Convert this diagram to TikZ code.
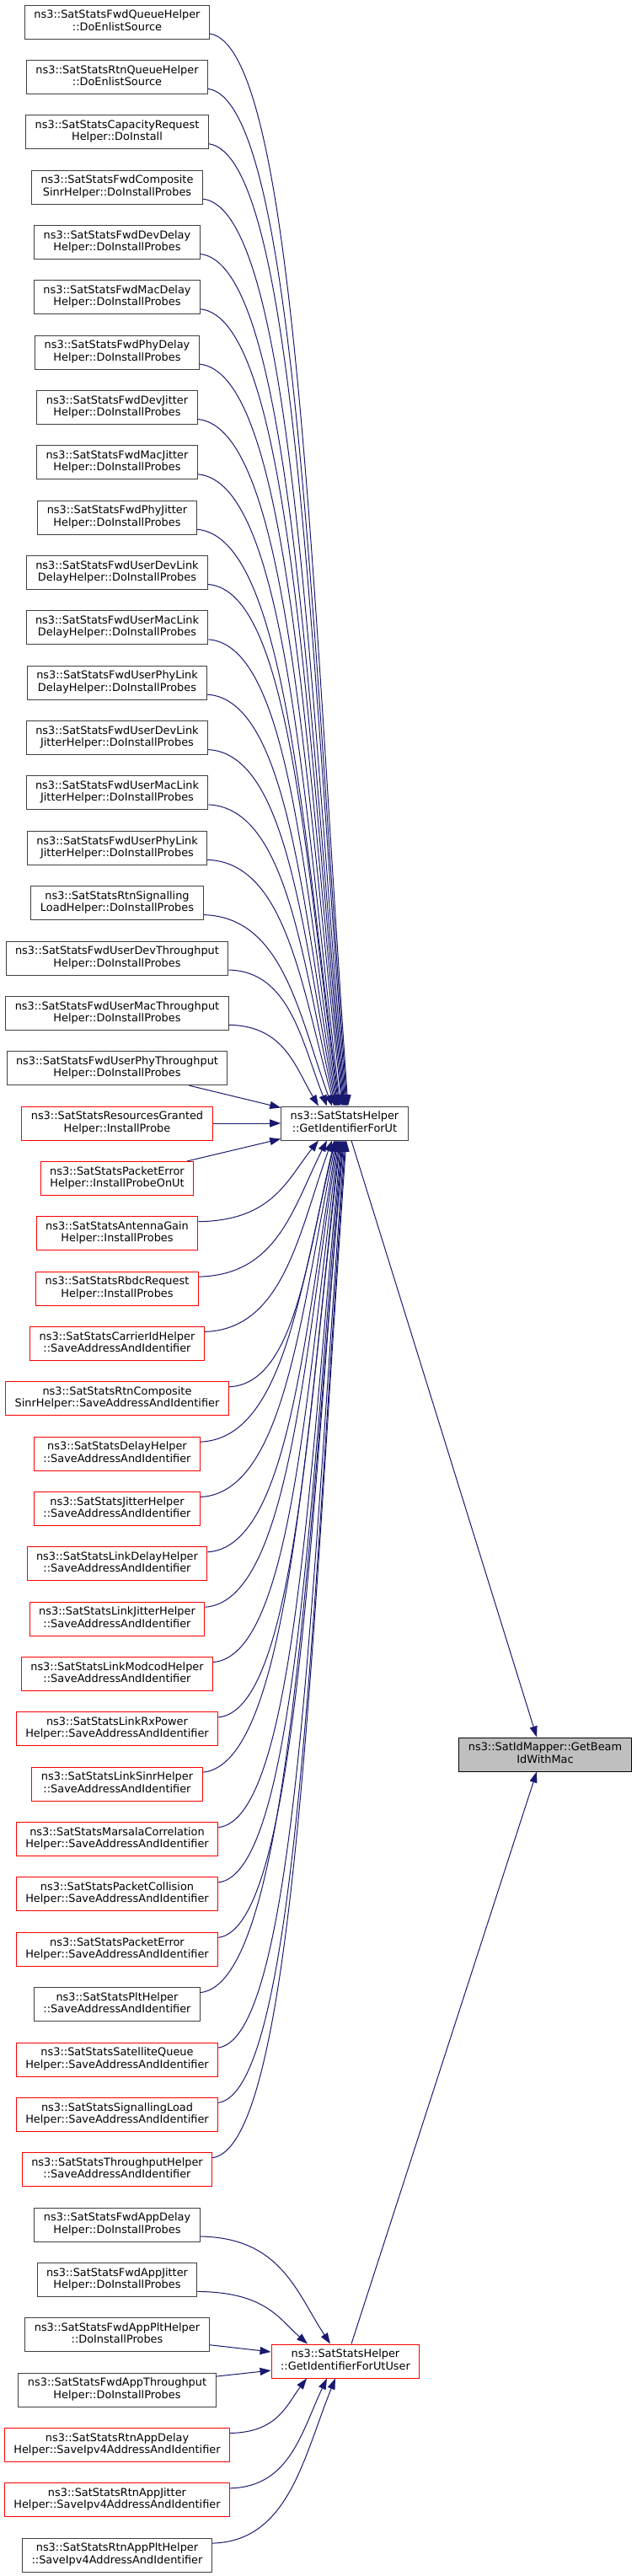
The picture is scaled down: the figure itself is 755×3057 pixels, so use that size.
\documentclass[tikz,border=0pt]{standalone}
\usepackage{fontspec}
\setmainfont{DejaVu Sans}
\usetikzlibrary{arrows.meta,calc}
\definecolor{edgeblue}{HTML}{191970}
\definecolor{boxgrey}{HTML}{404040}
\definecolor{boxred}{HTML}{FF0000}
\definecolor{rootfill}{HTML}{BFBFBF}
% first line flush left, second line centred (as the call graph prints them)
\newcommand{\fnname}[2]{\begin{tabular}{@{}c@{}}#1\hfill\\#2\end{tabular}}

\begin{document}
\begin{tikzpicture}[x=1pt,y=-1pt,font=\fontsize{12.9}{14.3}\selectfont,
  fn/.style={draw=boxgrey,line width=1pt,fill=white,inner xsep=11pt,inner ysep=5.7pt},
  fnred/.style={fn,draw=boxred},
  fnroot/.style={fn,draw=black,fill=rootfill},
  call/.style={-{Triangle[length=13pt,width=9pt]},draw=edgeblue,line width=1pt},
  callcurve/.style={to path={let \p1=(\tikztostart), \p2=(\tikztotarget) in
    .. controls ({\x1+0.62*(\x2-\x1)},{\y1+0.012*(\y2-\y1)})
    and ({\x2-0.26*(\x2-\x1)},{\y1+0.52*(\y2-\y1)}) .. (\tikztotarget)}}]
\useasboundingbox (0,0) rectangle (755,3057);

% callers of GetIdentifierForUt
\node[fn] (fwdq) at (139,26) {\fnname{ns3::SatStatsFwdQueueHelper}{::DoEnlistSource}};
\node[fn] (rtnq) at (139,91.4) {\fnname{ns3::SatStatsRtnQueueHelper}{::DoEnlistSource}};
\node[fn] (capreq) at (139,156.7) {\fnname{ns3::SatStatsCapacityRequest}{Helper::DoInstall}};
\node[fn] (fwdcsinr) at (139,222.1) {\fnname{ns3::SatStatsFwdComposite}{SinrHelper::DoInstallProbes}};
\node[fn] (fwddevd) at (139,287.4) {\fnname{ns3::SatStatsFwdDevDelay}{Helper::DoInstallProbes}};
\node[fn] (fwdmacd) at (139,352.8) {\fnname{ns3::SatStatsFwdMacDelay}{Helper::DoInstallProbes}};
\node[fn] (fwdphyd) at (139,418.1) {\fnname{ns3::SatStatsFwdPhyDelay}{Helper::DoInstallProbes}};
\node[fn] (fwddevj) at (139,483.5) {\fnname{ns3::SatStatsFwdDevJitter}{Helper::DoInstallProbes}};
\node[fn] (fwdmacj) at (139,548.8) {\fnname{ns3::SatStatsFwdMacJitter}{Helper::DoInstallProbes}};
\node[fn] (fwdphyj) at (139,614.2) {\fnname{ns3::SatStatsFwdPhyJitter}{Helper::DoInstallProbes}};
\node[fn] (udevld) at (139,679.5) {\fnname{ns3::SatStatsFwdUserDevLink}{DelayHelper::DoInstallProbes}};
\node[fn] (umacld) at (139,744.9) {\fnname{ns3::SatStatsFwdUserMacLink}{DelayHelper::DoInstallProbes}};
\node[fn] (uphyld) at (139,810.2) {\fnname{ns3::SatStatsFwdUserPhyLink}{DelayHelper::DoInstallProbes}};
\node[fn] (udevlj) at (139,875.6) {\fnname{ns3::SatStatsFwdUserDevLink}{JitterHelper::DoInstallProbes}};
\node[fn] (umaclj) at (139,940.9) {\fnname{ns3::SatStatsFwdUserMacLink}{JitterHelper::DoInstallProbes}};
\node[fn] (uphylj) at (139,1006.3) {\fnname{ns3::SatStatsFwdUserPhyLink}{JitterHelper::DoInstallProbes}};
\node[fn] (rtnsig) at (139,1071.6) {\fnname{ns3::SatStatsRtnSignalling}{LoadHelper::DoInstallProbes}};
\node[fn] (udevtp) at (139,1137) {\fnname{ns3::SatStatsFwdUserDevThroughput}{Helper::DoInstallProbes}};
\node[fn] (umactp) at (139,1202.3) {\fnname{ns3::SatStatsFwdUserMacThroughput}{Helper::DoInstallProbes}};
\node[fn] (uphytp) at (139,1267.7) {\fnname{ns3::SatStatsFwdUserPhyThroughput}{Helper::DoInstallProbes}};
\node[fnred] (resgr) at (139,1333) {\fnname{ns3::SatStatsResourcesGranted}{Helper::InstallProbe}};
\node[fnred] (perrut) at (139,1398.4) {\fnname{ns3::SatStatsPacketError}{Helper::InstallProbeOnUt}};
\node[fnred] (antg) at (139,1463.7) {\fnname{ns3::SatStatsAntennaGain}{Helper::InstallProbes}};
\node[fnred] (rbdc) at (139,1529.1) {\fnname{ns3::SatStatsRbdcRequest}{Helper::InstallProbes}};
\node[fnred] (carrier) at (139,1594.4) {\fnname{ns3::SatStatsCarrierIdHelper}{::SaveAddressAndIdentifier}};
\node[fnred] (rtncsinr) at (139,1659.8) {\fnname{ns3::SatStatsRtnComposite}{SinrHelper::SaveAddressAndIdentifier}};
\node[fnred] (delay) at (139,1725.1) {\fnname{ns3::SatStatsDelayHelper}{::SaveAddressAndIdentifier}};
\node[fnred] (jitter) at (139,1790.5) {\fnname{ns3::SatStatsJitterHelper}{::SaveAddressAndIdentifier}};
\node[fnred] (linkd) at (139,1855.8) {\fnname{ns3::SatStatsLinkDelayHelper}{::SaveAddressAndIdentifier}};
\node[fnred] (linkj) at (139,1921.2) {\fnname{ns3::SatStatsLinkJitterHelper}{::SaveAddressAndIdentifier}};
\node[fnred] (modcod) at (139,1986.5) {\fnname{ns3::SatStatsLinkModcodHelper}{::SaveAddressAndIdentifier}};
\node[fnred] (rxpow) at (139,2051.9) {\fnname{ns3::SatStatsLinkRxPower}{Helper::SaveAddressAndIdentifier}};
\node[fnred] (sinr) at (139,2117.2) {\fnname{ns3::SatStatsLinkSinrHelper}{::SaveAddressAndIdentifier}};
\node[fnred] (marsala) at (139,2182.6) {\fnname{ns3::SatStatsMarsalaCorrelation}{Helper::SaveAddressAndIdentifier}};
\node[fnred] (pcoll) at (139,2247.9) {\fnname{ns3::SatStatsPacketCollision}{Helper::SaveAddressAndIdentifier}};
\node[fnred] (perr) at (139,2313.3) {\fnname{ns3::SatStatsPacketError}{Helper::SaveAddressAndIdentifier}};
\node[fn] (plt) at (139,2378.6) {\fnname{ns3::SatStatsPltHelper}{::SaveAddressAndIdentifier}};
\node[fnred] (satq) at (139,2444) {\fnname{ns3::SatStatsSatelliteQueue}{Helper::SaveAddressAndIdentifier}};
\node[fnred] (sigload) at (139,2509.3) {\fnname{ns3::SatStatsSignallingLoad}{Helper::SaveAddressAndIdentifier}};
\node[fnred] (tput) at (139,2574.7) {\fnname{ns3::SatStatsThroughputHelper}{::SaveAddressAndIdentifier}};
% callers of GetIdentifierForUtUser
\node[fn] (appd) at (139,2640) {\fnname{ns3::SatStatsFwdAppDelay}{Helper::DoInstallProbes}};
\node[fn] (appj) at (139,2705.4) {\fnname{ns3::SatStatsFwdAppJitter}{Helper::DoInstallProbes}};
\node[fn] (appplt) at (139,2770.7) {\fnname{ns3::SatStatsFwdAppPltHelper}{::DoInstallProbes}};
\node[fn] (apptp) at (139,2836.1) {\fnname{ns3::SatStatsFwdAppThroughput}{Helper::DoInstallProbes}};
\node[fnred] (rappd) at (139,2901.4) {\fnname{ns3::SatStatsRtnAppDelay}{Helper::SaveIpv4AddressAndIdentifier}};
\node[fnred] (rappj) at (139,2966.8) {\fnname{ns3::SatStatsRtnAppJitter}{Helper::SaveIpv4AddressAndIdentifier}};
\node[fn] (rappplt) at (139,3032.1) {\fnname{ns3::SatStatsRtnAppPltHelper}{::SaveIpv4AddressAndIdentifier}};

\node[fn] (ut) at (409,1333) {\fnname{ns3::SatStatsHelper}{::GetIdentifierForUt}};
\node[fnred] (utuser) at (410,2802) {\fnname{ns3::SatStatsHelper}{::GetIdentifierForUtUser}};
\node[fnroot] (beam) at (647,2082) {\fnname{ns3::SatIdMapper::GetBeam}{IdWithMac}};

% edges into GetIdentifierForUt, from above
\draw[call,callcurve] ([yshift=-14pt]fwdq.east) to ([xshift=4pt]ut.north);
\draw[call,callcurve] ([yshift=-14pt]rtnq.east) to ([xshift=3pt]ut.north);
\draw[call,callcurve] ([yshift=-14pt]capreq.east) to ([xshift=2pt]ut.north);
\draw[call,callcurve] ([yshift=-14pt]fwdcsinr.east) to ([xshift=1pt]ut.north);
\draw[call,callcurve] ([yshift=-14pt]fwddevd.east) to (ut.north);
\draw[call,callcurve] ([yshift=-14pt]fwdmacd.east) to ([xshift=-1pt]ut.north);
\draw[call,callcurve] ([yshift=-14pt]fwdphyd.east) to ([xshift=-2pt]ut.north);
\draw[call,callcurve] ([yshift=-14pt]fwddevj.east) to ([xshift=-3pt]ut.north);
\draw[call,callcurve] ([yshift=-14pt]fwdmacj.east) to ([xshift=-5pt]ut.north);
\draw[call,callcurve] ([yshift=-14pt]fwdphyj.east) to ([xshift=-6pt]ut.north);
\draw[call,callcurve] ([yshift=-14pt]udevld.east) to ([xshift=-7pt]ut.north);
\draw[call,callcurve] ([yshift=-14pt]umacld.east) to ([xshift=-8pt]ut.north);
\draw[call,callcurve] ([yshift=-14pt]uphyld.east) to ([xshift=-9pt]ut.north);
\draw[call,callcurve] ([yshift=-14pt]udevlj.east) to ([xshift=-10pt]ut.north);
\draw[call,callcurve] ([yshift=-14pt]umaclj.east) to ([xshift=-11pt]ut.north);
\draw[call,callcurve] ([yshift=-14pt]uphylj.east) to ([xshift=-12pt]ut.north);
\draw[call,callcurve] ([yshift=-14pt]rtnsig.east) to ([xshift=-15pt]ut.north);
\draw[call,callcurve] ([yshift=-14pt]udevtp.east) to ([xshift=-21pt]ut.north);
\draw[call,callcurve] ([yshift=-14pt]umactp.east) to ([xshift=-31pt]ut.north);
\draw[call] ([xshift=-46pt]uphytp.south east) -- ([yshift=-2pt]ut.north west);
\draw[call] (resgr.east) -- (ut.west);
\draw[call] ([xshift=-8pt]perrut.north east) -- ([yshift=2pt]ut.south west);
% edges into GetIdentifierForUt, from below
\draw[call,callcurve] ([yshift=14pt]antg.east) to ([xshift=-31pt]ut.south);
\draw[call,callcurve] ([yshift=14pt]rbdc.east) to ([xshift=-21pt]ut.south);
\draw[call,callcurve] ([yshift=14pt]carrier.east) to ([xshift=-15pt]ut.south);
\draw[call,callcurve] ([yshift=14pt]rtncsinr.east) to ([xshift=-12pt]ut.south);
\draw[call,callcurve] ([yshift=14pt]delay.east) to ([xshift=-11pt]ut.south);
\draw[call,callcurve] ([yshift=14pt]jitter.east) to ([xshift=-10pt]ut.south);
\draw[call,callcurve] ([yshift=14pt]linkd.east) to ([xshift=-9pt]ut.south);
\draw[call,callcurve] ([yshift=14pt]linkj.east) to ([xshift=-8pt]ut.south);
\draw[call,callcurve] ([yshift=14pt]modcod.east) to ([xshift=-7pt]ut.south);
\draw[call,callcurve] ([yshift=14pt]rxpow.east) to ([xshift=-6pt]ut.south);
\draw[call,callcurve] ([yshift=14pt]sinr.east) to ([xshift=-5pt]ut.south);
\draw[call,callcurve] ([yshift=14pt]marsala.east) to ([xshift=-4pt]ut.south);
\draw[call,callcurve] ([yshift=14pt]pcoll.east) to ([xshift=-3pt]ut.south);
\draw[call,callcurve] ([yshift=14pt]perr.east) to ([xshift=-2pt]ut.south);
\draw[call,callcurve] ([yshift=14pt]plt.east) to ([xshift=-1pt]ut.south);
\draw[call,callcurve] ([yshift=14pt]satq.east) to (ut.south);
\draw[call,callcurve] ([yshift=14pt]sigload.east) to ([xshift=1pt]ut.south);
\draw[call,callcurve] ([yshift=14pt]tput.east) to ([xshift=2pt]ut.south);
% edges into GetIdentifierForUtUser
\draw[call,callcurve] ([yshift=-14pt]appd.east) to ([xshift=-18pt]utuser.north);
\draw[call,callcurve] ([yshift=-14pt]appj.east) to ([xshift=-45pt]utuser.north);
\draw[call] ([yshift=-12pt]appplt.east) -- ([yshift=11pt]utuser.west);
\draw[call] ([yshift=16pt]apptp.east) -- ([yshift=-11pt]utuser.west);
\draw[call,callcurve] ([yshift=14pt]rappd.east) to ([xshift=-46pt]utuser.south);
\draw[call,callcurve] ([yshift=14pt]rappj.east) to ([xshift=-22pt]utuser.south);
\draw[call,callcurve] ([yshift=14pt]rappplt.east) to ([xshift=-12pt]utuser.south);
% both reach GetBeamIdWithMac
\draw[call] ([xshift=8pt]ut.south) -- ([xshift=-10pt]beam.north);
\draw[call] ([xshift=7pt]utuser.north) -- ([xshift=-10pt]beam.south);
\end{tikzpicture}
\end{document}
